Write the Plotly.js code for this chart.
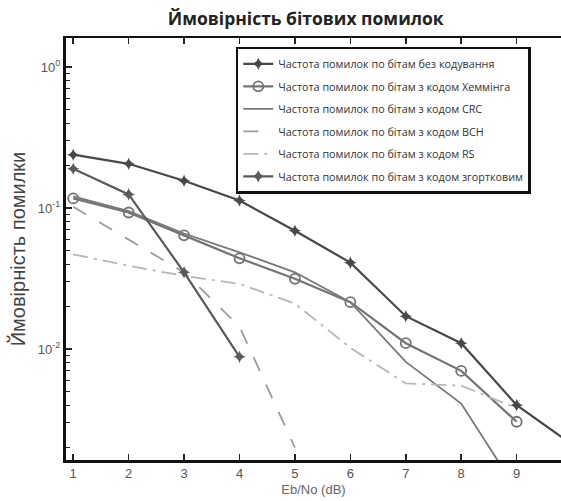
<!DOCTYPE html>
<html>
<head>
<meta charset="utf-8">
<script src="https://cdn.plot.ly/plotly-3.0.1.min.js"></script>
<style>html,body{margin:0;padding:0;background:#fff;}#chart{width:561px;height:501px;}</style>
</head>
<body>
<div id="chart"></div>
<script>
// Eb/No values (dB)
const ebno = [1, 2, 3, 4, 5, 6, 7, 8, 9, 10];
// Bit error probability per coding scheme
const berUncoded = [0.239, 0.206, 0.156, 0.113, 0.069, 0.041, 0.0171, 0.0110, 0.0040, 0.0021];
const berHamming = [0.117, 0.093, 0.064, 0.044, 0.0315, 0.0215, 0.0110, 0.0070, 0.00305];
const berCRC = [0.121, 0.095, 0.066, 0.0485, 0.035, 0.0215, 0.0081, 0.0041, 0.0010];
const berBCH = [0.102, 0.060, 0.035, 0.0144, 0.0020];
const berRS = [0.047, 0.039, 0.033, 0.029, 0.021, 0.0102, 0.0057, 0.0055, 0.0038];
const berConv = [0.190, 0.125, 0.035, 0.0088];

const names = [
  'Частота помилок по бітам без кодування',
  'Частота помилок по бітам з кодом Хеммінга',
  'Частота помилок по бітам з кодом CRC',
  'Частота помилок по бітам з кодом BCH',
  'Частота помилок по бітам з кодом RS',
  'Частота помилок по бітам з кодом згортковим'
];

const yTickVals = [1, 0.1, 0.01];
const yTickText = ['10<sup>0</sup>', '10<sup>-1</sup>', '10<sup>-2</sup>'];
const minorVals = [];
[0.001, 0.01, 0.1, 1].forEach(d => { for (let k = 2; k <= 9; k++) minorVals.push(d * k); });

const traces = [
  {x: ebno.slice(0, berUncoded.length), y: berUncoded, name: names[0], mode: 'lines+markers',
   line: {color: '#484848', width: 2.2}, marker: {symbol: 'star-diamond', size: 9, color: '#484848'}, legendgroup: 'a'},
  {x: ebno.slice(0, berHamming.length), y: berHamming, name: names[1], mode: 'lines+markers',
   line: {color: '#747474', width: 2.2}, marker: {symbol: 'circle-open', size: 10, color: '#747474', line: {width: 1.8}}, legendgroup: 'b'},
  {x: ebno.slice(0, berCRC.length), y: berCRC, name: names[2], mode: 'lines',
   line: {color: '#787878', width: 1.8}, legendgroup: 'c'},
  {x: ebno.slice(0, berBCH.length), y: berBCH, name: names[3], mode: 'lines',
   line: {color: '#9c9c9c', width: 1.8, dash: 'longdash'}, legendgroup: 'd'},
  {x: ebno.slice(0, berRS.length), y: berRS, name: names[4], mode: 'lines',
   line: {color: '#b8b8b8', width: 1.8, dash: 'longdashdot'}, legendgroup: 'e'},
  {x: ebno.slice(0, berConv.length), y: berConv, name: names[5], mode: 'lines+markers',
   line: {color: '#5a5a5a', width: 2.2}, marker: {symbol: 'star-diamond', size: 9, color: '#5a5a5a'}, legendgroup: 'f'},
  // invisible helper trace that carries the minor-tick axis
  {x: [1], y: [0.1], yaxis: 'y2', mode: 'markers', marker: {opacity: 0}, showlegend: false, hoverinfo: 'skip'}
];

const layout = {
  width: 561, height: 501,
  margin: {l: 66, r: 0, t: 38, b: 41},
  paper_bgcolor: '#fff', plot_bgcolor: '#fff',
  font: {family: 'Liberation Sans, Arial, sans-serif', color: '#555'},
  title: {text: '<b>Ймовірність бітових помилок</b>', x: 0.545, xanchor: 'center', y: 0.963, yanchor: 'middle',
          font: {family: 'Open Sans, sans-serif', size: 17.5, color: '#222'}},
  showlegend: true,
  legend: {x: 0.343, y: 0.979, xanchor: 'left', yanchor: 'top', bgcolor: '#fff',
           bordercolor: '#111', borderwidth: 2.5, tracegroupgap: 3.5,
           entrywidthmode: 'pixels', entrywidth: 270,
           font: {family: 'Open Sans, sans-serif', size: 10.8, color: '#333'}},
  xaxis: {range: [0.87, 9.8], tickvals: [1, 2, 3, 4, 5, 6, 7, 8, 9], ticks: 'inside', ticklen: 6, tickwidth: 1.5,
          tickcolor: '#222', showline: true, linecolor: '#111', linewidth: 2.5, mirror: 'ticks',
          showgrid: false, zeroline: false, tickfont: {size: 13, color: '#555'},
          title: {text: 'Eb/No (dB)', font: {size: 13, color: '#666'}, standoff: 5}},
  yaxis: {type: 'log', range: [-2.787, 0.206], tickvals: yTickVals, ticktext: yTickText,
          ticks: 'inside', ticklen: 6, tickwidth: 1.5, tickcolor: '#222',
          showline: true, linecolor: '#111', linewidth: 3, showgrid: false, zeroline: false,
          tickfont: {size: 13, color: '#555'},
          title: {text: 'Ймовірність помилки', font: {size: 20, color: '#444'}, standoff: 7}},
  yaxis2: {type: 'log', range: [-2.787, 0.206], overlaying: 'y', side: 'left', tickvals: minorVals,
           showticklabels: false, ticks: 'inside', ticklen: 4, tickwidth: 1, tickcolor: '#222',
           showline: false, showgrid: false, zeroline: false}
};

Plotly.newPlot('chart', traces, layout, {displayModeBar: false, staticPlot: true});
</script>
</body>
</html>
